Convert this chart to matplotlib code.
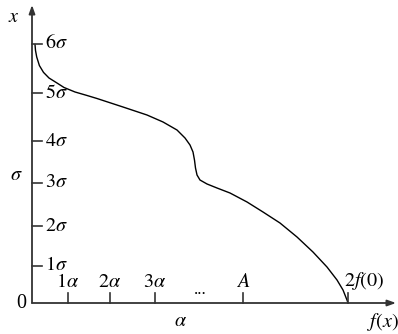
import numpy as np
import matplotlib
matplotlib.use('Agg')
from matplotlib import pyplot as plt

plt.rcParams['font.family'] = ['Liberation Serif', 'DejaVu Serif']
plt.rcParams['mathtext.fontset'] = 'stix'

# curva f(x) contra x (x em unidades de sigma, f escalado para 2f(0) = 1)
curva_f = [0.0095, 0.0111, 0.0149, 0.0234, 0.0364, 0.0538, 0.0791, 0.1013, 0.1361,
           0.1741, 0.2057, 0.2880, 0.3639, 0.4146, 0.4589, 0.4842, 0.5000, 0.5095,
           0.5142, 0.5174, 0.5222, 0.5316, 0.5538, 0.5854, 0.6266, 0.6804, 0.7310,
           0.7848, 0.8386, 0.8892, 0.9335, 0.9652, 0.9842, 0.9968, 1.0000]
curva_x = [5.988, 5.849, 5.699, 5.500, 5.342, 5.212, 5.096, 4.992, 4.888,
           4.807, 4.737, 4.540, 4.355, 4.193, 4.007, 3.822, 3.660, 3.498,
           3.312, 3.127, 2.965, 2.849, 2.757, 2.664, 2.548, 2.340, 2.108,
           1.853, 1.529, 1.181, 0.834, 0.533, 0.301, 0.069, 0.000]

# marcas do eixo vertical (desenhadas a mao, espacamento irregular)
ytick_pos = [0.86, 1.78, 2.78, 3.75, 4.86, 6.00]
ytick_lab = [r'$1\sigma$', r'$2\sigma$', r'$3\sigma$', r'$4\sigma$', r'$5\sigma$', r'$6\sigma$']

# marcas do eixo horizontal
xtick_pos = [0.114, 0.247, 0.389, 0.667, 1.000]
xtick_lab = [r'$1\alpha$', r'$2\alpha$', r'$3\alpha$', r'$A$', r'$2f(0)$']

# pixel -> dados: px = 32 + 316*f ; py = 303 - 43.17*x
SX = 316.0
SY = 43.17

fig = plt.figure(figsize=(3.98, 3.34), dpi=100)
ax = fig.add_axes([0, 0, 1, 1])
ax.set_xlim(-32 / SX, 366 / SX)
ax.set_ylim(-31 / SY, 303 / SY)
ax.axis('off')

cor_eixo = '#333333'
seta = dict(arrowstyle='-|>,head_length=0.5,head_width=0.18', color=cor_eixo, lw=1.3,
            shrinkA=0, shrinkB=0)
ax.annotate('', xy=(0, 298 / SY), xytext=(0, 0), arrowprops=seta)
ax.annotate('', xy=(364 / SX, 0), xytext=(0, 0), arrowprops=seta)

# curva
ax.plot(curva_f, curva_x, color='black', lw=1.0, solid_joinstyle='round')

tam = 14.5
for p, lab in zip(ytick_pos, ytick_lab):
    ax.plot([0, 10 / SX], [p, p], color=cor_eixo, lw=1.2)
    ax.text(13 / SX, p, lab, ha='left', va='center', fontsize=tam)

for i, (p, lab) in enumerate(zip(xtick_pos, xtick_lab)):
    ax.plot([p, p], [0, 10 / SY], color=cor_eixo, lw=1.2)
    if i == len(xtick_pos) - 1:
        ax.text(p - 4 / SX, 11 / SY, lab, ha='left', va='bottom', fontsize=tam)
    else:
        ax.text(p, 11 / SY, lab, ha='center', va='bottom', fontsize=tam)

ax.text(168 / SX, 13 / SY, '...', ha='center', va='center', fontsize=12)

ax.text(-11 / SX, -1 / SY, '0', ha='center', va='center', fontsize=tam)
ax.text(-18 / SX, 286 / SY, r'$x$', ha='center', va='center', fontsize=tam)
ax.text(-16 / SX, 128 / SY, r'$\sigma$', ha='center', va='center', fontsize=tam)
ax.text(149 / SX, -19 / SY, r'$\alpha$', ha='center', va='center', fontsize=tam)
ax.text(351 / SX, -19 / SY, r'$f(x)$', ha='center', va='center', fontsize=tam)

fig.savefig('out.png', dpi=100)
